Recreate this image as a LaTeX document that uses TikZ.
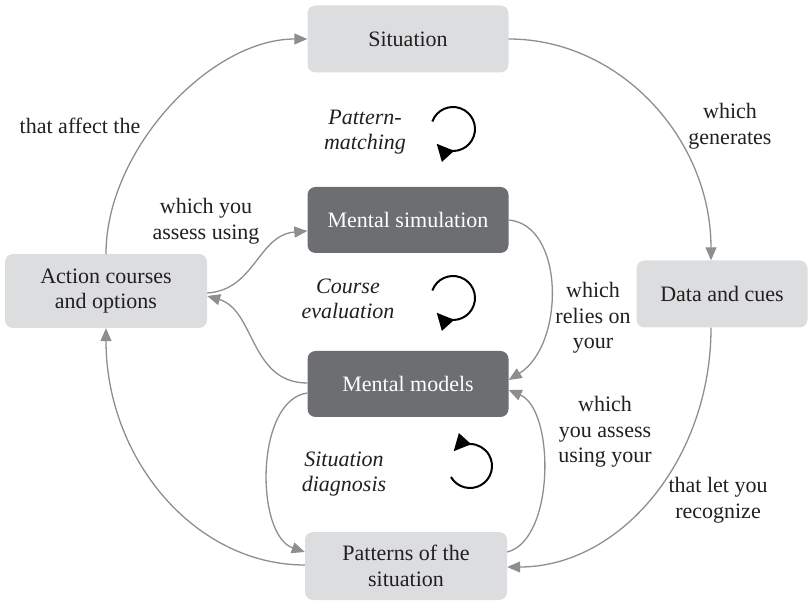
\documentclass[tikz,border=0pt]{standalone}
\usepackage{fontspec}
\setmainfont{Liberation Serif}
\usetikzlibrary{arrows.meta,calc}
\definecolor{boxlight}{HTML}{DCDDDF}
\definecolor{boxdark}{HTML}{6D6E71}
\definecolor{linkgray}{HTML}{8D8E91}
\definecolor{ink}{HTML}{231F20}

\begin{document}
\begin{tikzpicture}[x=1pt,y=-1pt,
  basefont/.style={font=\fontsize{22}{25.5}\selectfont},
  every node/.style={basefont,text=ink},
  lightbox/.style={rectangle,rounded corners=8pt,fill=boxlight,align=center,inner sep=0pt},
  darkbox/.style={rectangle,rounded corners=8pt,fill=boxdark,text=white,align=center,inner sep=0pt},
  edgelabel/.style={align=center,inner sep=0pt},
  looplabel/.style={align=center,inner sep=0pt,font=\fontsize{22}{25.5}\selectfont\itshape},
  conn/.style={draw=linkgray,line width=1.3pt,-{Triangle[length=13pt,width=11pt]}},
  cycle arrow/.style={draw=black,line width=2pt,-{Triangle[length=17pt,width=16pt]}}]

\useasboundingbox (0,0) rectangle (809,601);

% boxes
\node[lightbox,minimum width=201pt,minimum height=67pt] (sit) at (408,39) {Situation};
\node[darkbox,minimum width=201pt,minimum height=66pt] (ms) at (408,220) {Mental simulation};
\node[darkbox,minimum width=201pt,minimum height=66pt] (mm) at (408,384) {Mental models};
\node[lightbox,minimum width=202pt,minimum height=68pt] (pat) at (406,566) {Patterns of the\\situation};
\node[lightbox,minimum width=202pt,minimum height=74pt] (act) at (106,291) {Action courses\\and options};
\node[lightbox,minimum width=171pt,minimum height=67pt] (dat) at (722,294) {Data and cues};

% connector labels
\node[edgelabel] (t1) at (80,126) {that affect the};
\node[edgelabel] (t2) at (206,221) {which you\\assess using};
\node[edgelabel] (t3) at (730,126) {which\\generates};
\node[edgelabel] (t4) at (593,318) {which\\relies on\\your};
\node[edgelabel] (t5) at (605,432) {which\\you assess\\using your};
\node[edgelabel] (t6) at (718,500) {that let you\\recognize};

% outer cycle
\draw[conn] (act.north) .. controls (106,150) and (210,39) .. (sit.west);
\draw[conn] (sit.east) .. controls (620,39) and (711,139) .. ($(dat.north)+(-11,0)$);
\draw[conn] ($(dat.south)+(-11,0)$) .. controls (711,460) and (620,567) .. ($(pat.east)+(0,1)$);
\draw[conn] ($(pat.west)+(0,-1)$) .. controls (195,565) and (106,459) .. (act.south);

% inner links
\draw[conn] (ms.east) .. controls (565,225) and (565,345) .. ($(mm.east)+(0,-4)$);
\draw[conn] ($(pat.east)+(0,-14)$) .. controls (555,540) and (555,410) .. ($(mm.east)+(0,6)$);
\draw[conn] ($(mm.west)+(0,-1)$) .. controls (250,383) and (255,310) .. ($(act.east)+(0,5)$);
\draw[conn] ($(act.east)+(0,2)$) .. controls (255,290) and (258,235) .. ($(ms.west)+(0,11)$);
\draw[conn] ($(mm.west)+(0,9)$) .. controls (255,400) and (255,535) .. ($(pat.west)+(0,-14)$);

% cycle labels and cycle marks
\node[looplabel] (c1) at (365,132) {Pattern-\\matching};
\node[looplabel] (c2) at (348,299) {Course\\evaluation};
\node[looplabel] (c3) at (344,474) {Situation\\diagnosis};

\coordinate (rA) at (453,129);
\coordinate (rB) at (453,298);
\coordinate (rC) at (470,466);
\draw[cycle arrow] ($(rA)+(160:22pt)$) arc[start angle=160,end angle=-138,radius=22pt];
\draw[cycle arrow] ($(rB)+(160:22pt)$) arc[start angle=160,end angle=-138,radius=22pt];
\draw[cycle arrow] ($(rC)+(-150:22pt)$) arc[start angle=-150,end angle=138,radius=22pt];

\end{tikzpicture}
\end{document}
